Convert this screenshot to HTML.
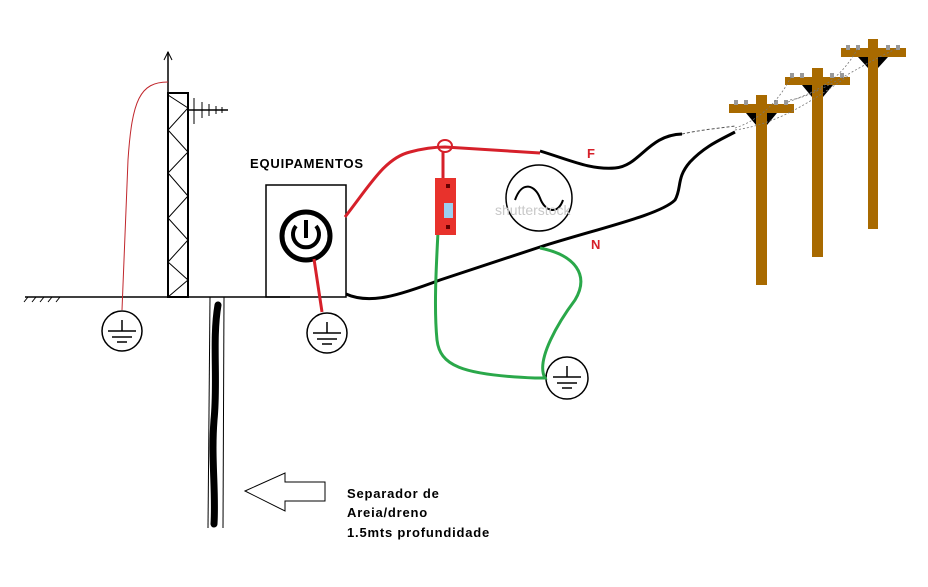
<!DOCTYPE html>
<html><head><style>html,body{margin:0;padding:0;background:#fff}svg{display:block}</style></head>
<body>
<svg width="928" height="587" viewBox="0 0 928 587" xmlns="http://www.w3.org/2000/svg" font-family="'Liberation Sans', sans-serif">
<rect width="928" height="587" fill="#fff"/>
<!-- ground -->
<line x1="25" y1="297" x2="290" y2="297" stroke="#000" stroke-width="1.5"/>
<line x1="290" y1="297" x2="346" y2="297" stroke="#888" stroke-width="1"/>
<g stroke="#000" stroke-width="1"><line x1="28" y1="297" x2="24" y2="302"/><line x1="36" y1="297" x2="32" y2="302"/><line x1="44" y1="297" x2="40" y2="302"/><line x1="52" y1="297" x2="48" y2="302"/><line x1="60" y1="297" x2="56" y2="302"/></g>
<!-- tower -->
<line x1="168" y1="52" x2="168" y2="297" stroke="#000" stroke-width="1.5"/>
<path d="M164,60 L168,52 L172,60" fill="none" stroke="#000"/>
<rect x="168" y="93" width="20" height="204" fill="none" stroke="#000" stroke-width="2"/>
<polyline points="168,95 188,108 168,130 188,152 168,173 188,196 168,218 188,240 168,262 188,280 168,297" fill="none" stroke="#000" stroke-width="1"/>
<line x1="188" y1="110" x2="228" y2="110" stroke="#000" stroke-width="1.5"/>
<g stroke="#000"><line x1="194" y1="98" x2="194" y2="124"/><line x1="202" y1="102" x2="202" y2="118"/><line x1="209" y1="104" x2="209" y2="116"/><line x1="216" y1="106" x2="216" y2="114"/><line x1="222" y1="107" x2="222" y2="113"/></g>
<path d="M168,82 C140,82 132,100 128,160 L122,310" fill="none" stroke="#c0262c" stroke-width="1"/>
<!-- grounds -->
<g fill="none" stroke="#000" stroke-width="1.5">
<circle cx="122" cy="331" r="20"/><line x1="122" y1="320" x2="122" y2="331"/><line x1="108" y1="331" x2="136" y2="331"/><line x1="112" y1="337" x2="132" y2="337"/><line x1="117" y1="342" x2="127" y2="342"/>
<circle cx="327" cy="333" r="20"/><line x1="327" y1="322" x2="327" y2="333"/><line x1="313" y1="333" x2="341" y2="333"/><line x1="317" y1="339" x2="337" y2="339"/><line x1="322" y1="344" x2="332" y2="344"/>
<circle cx="567" cy="378" r="21"/><line x1="567" y1="366" x2="567" y2="377"/><line x1="553" y1="377" x2="581" y2="377"/><line x1="557" y1="383" x2="577" y2="383"/><line x1="562" y1="388" x2="572" y2="388"/>
</g>
<!-- drain -->
<line x1="210" y1="297" x2="208" y2="528" stroke="#000" stroke-width="1"/>
<line x1="224" y1="297" x2="223" y2="528" stroke="#000" stroke-width="1"/>
<path d="M218,305 C212,340 218,380 214,420 C211,460 216,490 214,524" fill="none" stroke="#000" stroke-width="7" stroke-linecap="round"/>
<polygon points="245,491 285,473 285,482 325,482 325,501 285,501 285,511" fill="#fff" stroke="#000" stroke-width="1"/>
<g font-weight="bold" font-size="13" fill="#000" letter-spacing="0.8"><text x="347" y="498">Separador de</text><text x="347" y="517">Areia/dreno</text><text x="347" y="537">1.5mts profundidade</text>
<text x="250" y="168">EQUIPAMENTOS</text></g>
<!-- equipment -->
<rect x="266" y="185" width="80" height="112" fill="none" stroke="#000" stroke-width="1.5"/>
<circle cx="306" cy="236" r="24" fill="none" stroke="#000" stroke-width="5"/>
<path d="M296,226 A13,13 0 1 0 316,226" fill="none" stroke="#000" stroke-width="4"/>
<line x1="306" y1="220" x2="306" y2="238" stroke="#000" stroke-width="4"/>
<line x1="314" y1="259" x2="322" y2="312" stroke="#d6202a" stroke-width="3"/>
<!-- wires -->
<path d="M345,217 C370,185 385,158 410,152 C425,148 435,147 445,147 L540,153" fill="none" stroke="#d6202a" stroke-width="3"/>
<ellipse cx="445" cy="146" rx="7" ry="6" fill="none" stroke="#d6202a" stroke-width="2"/>
<line x1="443" y1="152" x2="443" y2="180" stroke="#d6202a" stroke-width="3"/>
<path d="M540,151 C570,160 590,170 615,168 C640,166 648,135 682,134" fill="none" stroke="#000" stroke-width="3"/>
<path d="M682,134 C700,130 720,128 735,126" fill="none" stroke="#555" stroke-width="1" stroke-dasharray="3,2"/>
<path d="M346,294 C370,305 400,295 440,280 L540,247 C600,228 660,215 675,200 C682,188 676,178 690,162 C705,146 720,140 735,132" fill="none" stroke="#000" stroke-width="3"/>
<path d="M438,232 C436,270 434,310 437,340 C440,365 460,375 535,378 L545,378 C535,360 560,320 575,300 C590,275 575,255 540,248" fill="none" stroke="#2aa84a" stroke-width="3"/>
<!-- SPD -->
<rect x="435" y="178" width="21" height="57" fill="#e8322c"/>
<rect x="444" y="203" width="9" height="15" fill="#9bd0f0"/>
<rect x="446" y="184" width="4" height="4" fill="#600"/><rect x="446" y="225" width="4" height="4" fill="#600"/>
<!-- AC source -->
<circle cx="539" cy="198" r="33" fill="none" stroke="#000" stroke-width="1.5"/>
<path d="M515,200 C522,180 535,185 540,198 C545,212 558,215 563,200" fill="none" stroke="#000" stroke-width="2"/>
<text x="495" y="215" font-size="14" fill="#c8c8c8">shutterstock</text>
<g font-weight="bold" font-size="13" fill="#d6202a"><text x="587" y="158">F</text><text x="591" y="249">N</text></g>
<!-- poles -->
<g fill="#a86a00">
<rect x="756" y="95" width="11" height="190"/><rect x="729" y="104" width="65" height="9"/>
<rect x="812" y="68" width="11" height="189"/><rect x="785" y="77" width="65" height="8"/>
<rect x="868" y="39" width="10" height="190"/><rect x="841" y="48" width="65" height="9"/>
</g>
<g fill="#000"><polygon points="746,113 756,113 756,125"/><polygon points="767,113 777,113 767,125"/><polygon points="802,85 812,85 812,97"/><polygon points="823,85 833,85 823,97"/><polygon points="858,57 868,57 868,68"/><polygon points="878,57 888,57 878,68"/></g>
<g fill="#999"><rect x="734" y="100" width="4" height="5"/><rect x="744" y="100" width="4" height="5"/><rect x="774" y="100" width="4" height="5"/><rect x="784" y="100" width="4" height="5"/>
<rect x="790" y="73" width="4" height="5"/><rect x="800" y="73" width="4" height="5"/><rect x="830" y="73" width="4" height="5"/><rect x="840" y="73" width="4" height="5"/>
<rect x="846" y="45" width="4" height="5"/><rect x="856" y="45" width="4" height="5"/><rect x="886" y="45" width="4" height="5"/><rect x="896" y="45" width="4" height="5"/></g>
<g fill="none" stroke="#777" stroke-width="0.8" stroke-dasharray="2,2">
<path d="M735,128 C760,120 780,100 792,75"/><path d="M735,130 C770,125 800,110 848,76"/><path d="M790,100 C820,95 850,70 898,48"/><path d="M788,102 C820,90 840,80 858,48"/>
</g>
</svg>
</body></html>
